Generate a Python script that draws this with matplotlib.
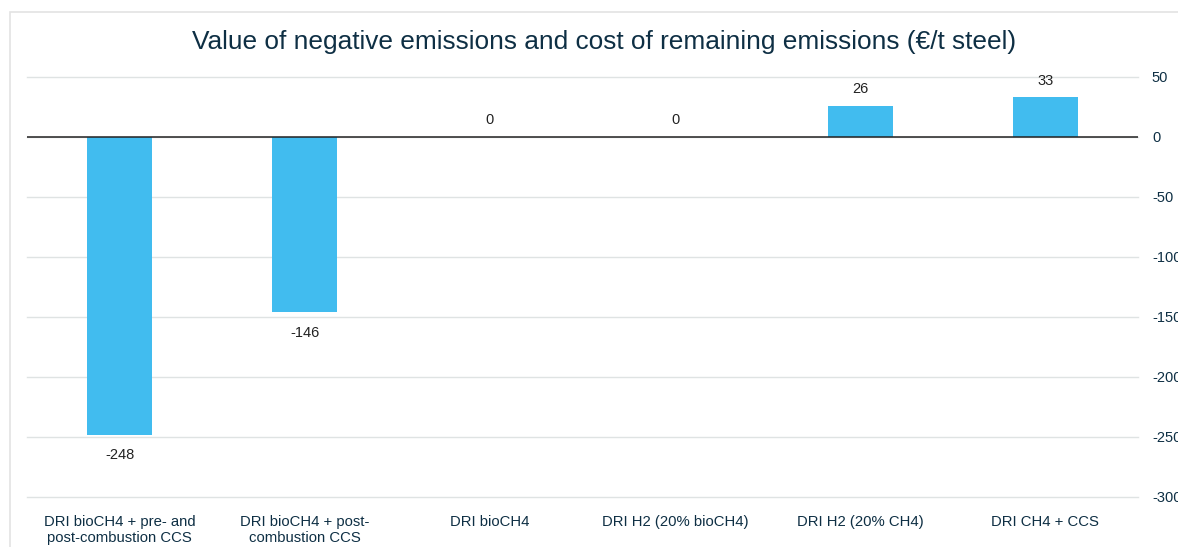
import numpy as np
import matplotlib.pyplot as plt
from matplotlib.patches import Rectangle

categories = ['DRI bioCH4 + pre- and\npost-combustion CCS',
              'DRI bioCH4 + post-\ncombustion CCS',
              'DRI bioCH4',
              'DRI H2 (20% bioCH4)',
              'DRI H2 (20% CH4)',
              'DRI CH4 + CCS']
values = [-248, -146, 0, 0, 26, 33]
yticks = [50, 0, -50, -100, -150, -200, -250, -300]

navy = '#0e2f44'
barColor = '#41bcef'

plt.rcParams['font.family'] = ['Liberation Sans', 'DejaVu Sans']
plt.rcParams['axes.unicode_minus'] = False

fig = plt.figure(figsize=(11.78, 5.47), dpi=100)
# light frame around chart area
fig.patches.append(Rectangle((10/1178, -0.1), 1.2, 1 - 12/547 + 0.1,
                             transform=fig.transFigure, fill=False,
                             edgecolor='#e3e3e3', linewidth=1.2))

ax = fig.add_axes([27/1178, 1 - 497/547, 1111/1178, 420/547])
x = np.arange(len(categories))
ax.bar(x, values, width=0.35, color=barColor, zorder=3)

for xi, v in zip(x, values):
	if v < 0:
		ax.annotate(str(v), (xi, v), xytext=(0, -10), textcoords='offset points',
		            ha='center', va='top', fontsize=10.5, color='#222222')
	else:
		ax.annotate(str(v), (xi, v), xytext=(0, 7), textcoords='offset points',
		            ha='center', va='bottom', fontsize=10.5, color='#222222')

ax.axhline(0, color='#222222', linewidth=1.1, zorder=4)
ax.set_xlim(-0.5, len(categories) - 0.5)
ax.set_ylim(-300, 50)
ax.set_yticks(yticks)
ax.yaxis.tick_right()
ax.tick_params(axis='y', length=0, pad=10, labelsize=10.5, labelcolor=navy)
ax.set_xticks(x)
ax.set_xticklabels(categories, fontsize=10.7, color=navy, linespacing=1.2)
ax.tick_params(axis='x', length=0, pad=13)
ax.grid(axis='y', color='#dfe3e3', linewidth=1, zorder=0)
for line in ax.get_ygridlines():
	line.set_clip_on(False)
for s in ax.spines.values():
	s.set_visible(False)

fig.text(604/1178, 1 - 42/547, 'Value of negative emissions and cost of remaining emissions (€/t steel)',
         ha='center', va='center', fontsize=18.9, color=navy)

fig.savefig('out.png', dpi=100)
